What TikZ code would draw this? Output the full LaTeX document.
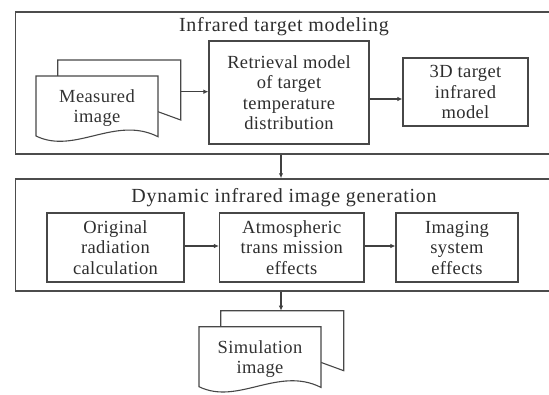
\documentclass[tikz,border=0pt]{standalone}
\usepackage{fontspec}
\setmainfont{Liberation Serif}[LetterSpace=2]
\newfontfamily\titlefont{Liberation Serif}[LetterSpace=3.5]
\usetikzlibrary{arrows.meta}
\begin{document}
\begin{tikzpicture}[x=1pt,y=-1pt,
  line/.style={draw=black!72, line width=1.1pt},
  box/.style={draw=black!72, line width=1.1pt, align=center, inner sep=0pt, text=black!82, font=\fontsize{18.5}{20.5}\selectfont},
  doctext/.style={align=center, inner sep=0pt, text=black!80, font=\fontsize{18.5}{20}\selectfont},
  frame/.style={draw=black!70, line width=1.5pt, inner sep=0pt},
  title/.style={text=black!82, font=\titlefont\fontsize{20}{22}\selectfont, inner sep=0pt},
  arr/.style={draw=black!75, line width=1.1pt, -{Latex[length=5pt,width=4.5pt]}},
  pics/docsheet/.style={code={
    \draw[line, fill=white] (21.7,0) -- (21.7,-16) -- (144.7,-16) -- (144.7,44) -- (122,35.7);
    \draw[line, fill=white] (0,60) -- (0,0) -- (122,0) -- (122,60.7) .. controls (79,39) and (39,79) .. (0,60) -- cycle;
  }}]
\useasboundingbox (0,0) rectangle (549,394);
\clip (0,0) rectangle (549,394);
\fill[white] (0,0) rectangle (549,394);
% frames
\node[frame, minimum width=540.5pt, minimum height=142pt] (top) at (285.75,83) {};
\node[frame, minimum width=540.5pt, minimum height=112pt] (bot) at (285.75,235) {};
% top group
\node[title] (t1) at (284,27) {Infrared target modeling};
\node[box, minimum width=160pt, minimum height=103pt] (retr) at (289,92.5) {Retrieval model\\of target\\temperature\\distribution};
\node[box, minimum width=125pt, minimum height=68pt] (tdm) at (465.5,92) {3D target\\infrared\\model};
\pic at (36,76) {docsheet};
\node[doctext] (meas) at (97,108) {Measured\\image};
\coordinate (measout) at (180.7,91.7);
\coordinate (rowb) at (0,99);
\coordinate (downx) at (281,0);
\draw[arr] (measout) -- (measout -| retr.west);
\draw[arr] (retr.east |- rowb) -- (tdm.west |- rowb);
\draw[arr] (top.south -| downx) -- (bot.north -| downx);
% bottom group
\node[title] (t2) at (284,198) {Dynamic infrared image generation};
\node[box, minimum width=137pt, minimum height=69pt] (orig) at (115.5,247.5) {Original\\radiation\\calculation};
\node[box, minimum width=144.5pt, minimum height=69pt] (atm) at (291.75,247.5) {Atmospheric\\trans mission\\effects};
\node[box, minimum width=122pt, minimum height=69pt] (img) at (457,247.5) {Imaging\\system\\effects};
\coordinate (rowc) at (0,246);
\draw[arr] (orig.east |- rowc) -- (atm.west |- rowc);
\draw[arr] (atm.east |- rowc) -- (img.west |- rowc);
% simulation document
\pic at (199,326.7) {docsheet};
\node[doctext] (sim) at (260,358.7) {Simulation\\image};
\coordinate (simin) at (281,310.7);
\draw[arr] (bot.south -| simin) -- (simin);
\end{tikzpicture}
\end{document}
